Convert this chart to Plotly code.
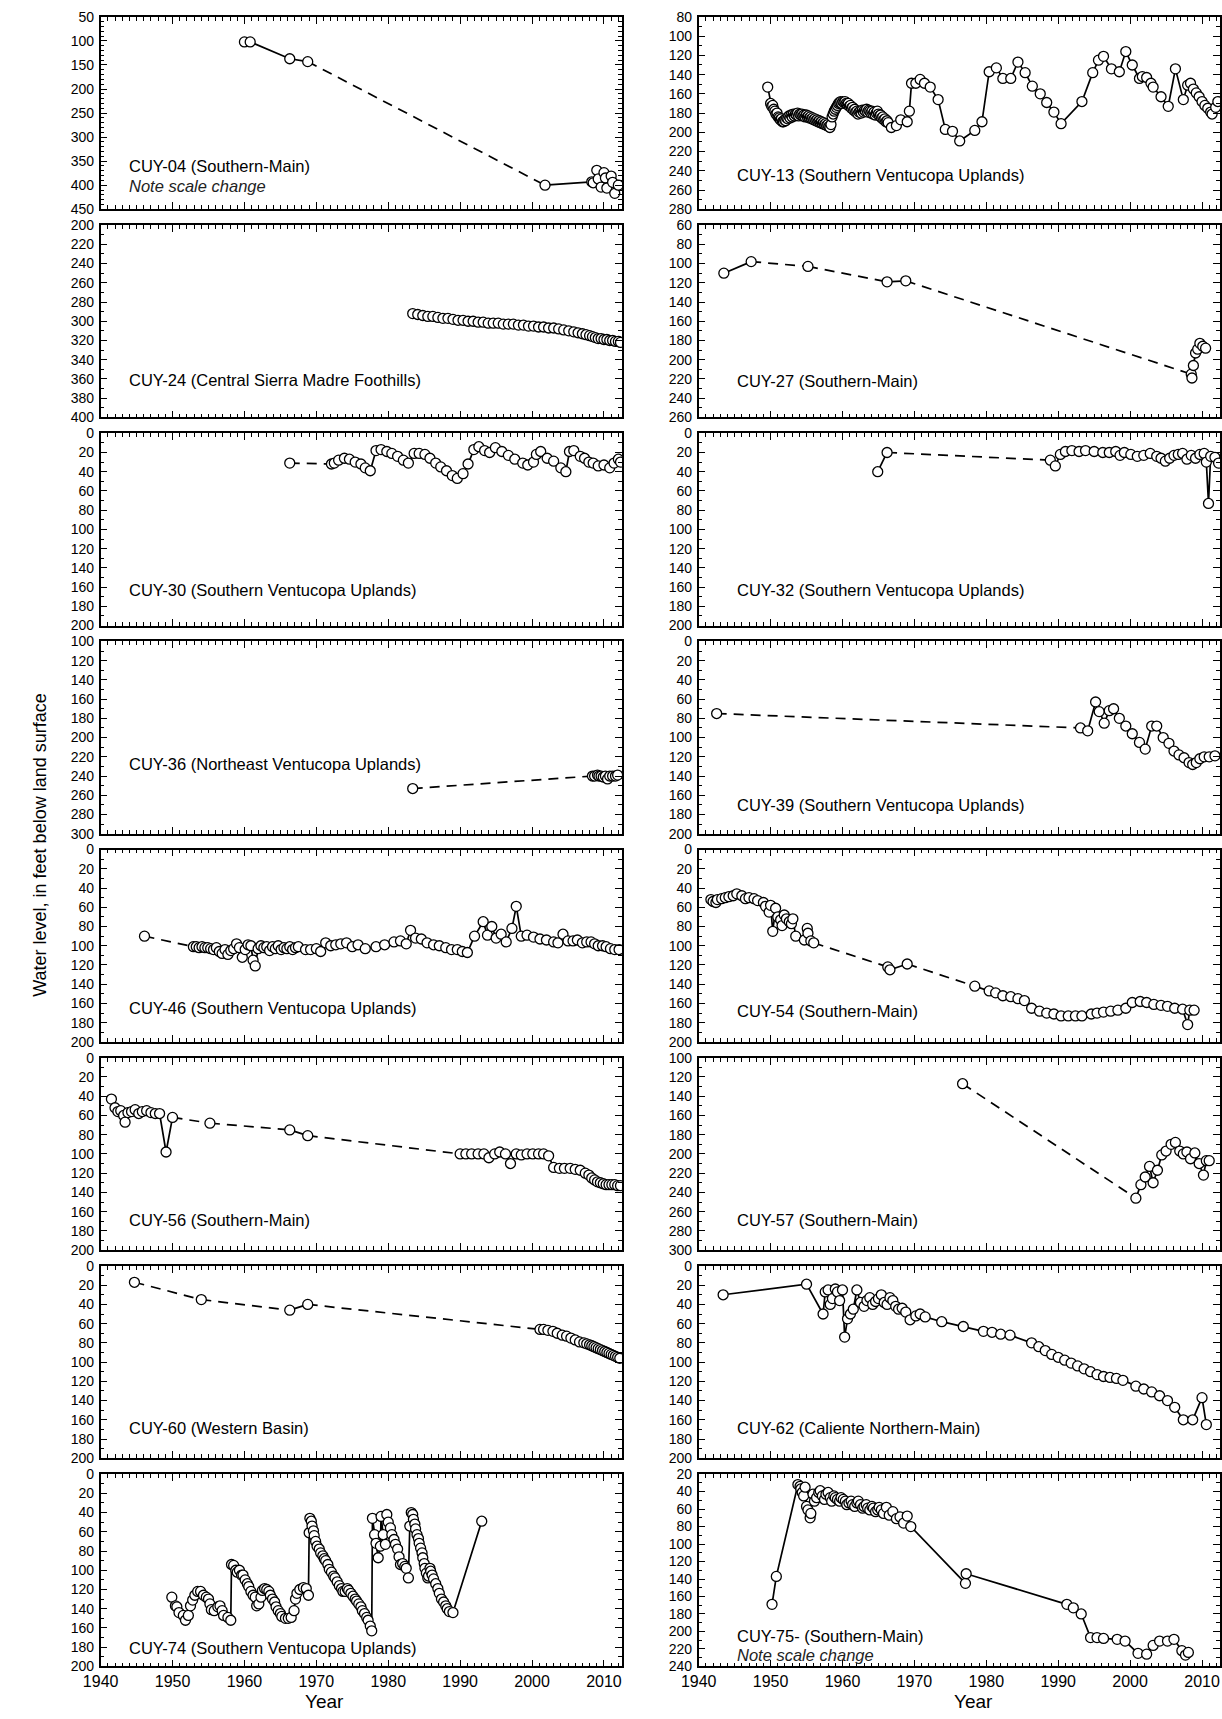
import plotly.graph_objects as go

# ---------------------------------------------------------------------------
# Water-level records for wells in the Cuyama Valley.
# Levels are depth to water in feet below land surface; years are decimal.
# *_dashed_after lists the years after which the record has a long gap
# (drawn as a dashed connector instead of a solid line).
# ---------------------------------------------------------------------------

cuy04_year = [1960.0, 1960.8, 1966.3, 1968.8, 2001.8, 2008.3, 2008.5, 2009.0, 2009.2, 2009.6,
              2010.0, 2010.2, 2010.4, 2011.0, 2011.2, 2011.5, 2012.0]
cuy04_level = [102, 102, 137, 143, 400, 393, 395, 369, 387, 404, 374, 385, 406, 381, 394, 417, 400]
cuy04_dashed_after = [1968.8]

cuy13_year = [1949.6,
              1950.0, 1950.15, 1950.3, 1950.45, 1950.6, 1950.75, 1950.9, 1951.05, 1951.2, 1951.35,
              1951.5, 1951.65, 1951.8, 1951.95, 1952.1, 1952.25, 1952.4, 1952.55, 1952.7, 1952.85,
              1953.0, 1953.15, 1953.3, 1953.45, 1953.6, 1953.75, 1953.9, 1954.05, 1954.2, 1954.35,
              1954.5, 1954.65, 1954.8, 1954.95, 1955.1, 1955.25, 1955.4, 1955.55, 1955.7, 1955.85,
              1956.0, 1956.15, 1956.3, 1956.45, 1956.6, 1956.75, 1956.9, 1957.05, 1957.2, 1957.35,
              1957.5, 1957.65, 1957.8, 1957.95, 1958.1, 1958.25, 1958.4,
              1958.55, 1958.7, 1958.85, 1959.0, 1959.15, 1959.3, 1959.45, 1959.6, 1959.75, 1959.9,
              1960.05, 1960.2, 1960.35, 1960.5, 1960.65, 1960.8, 1960.95, 1961.1, 1961.25, 1961.4,
              1961.55, 1961.7, 1961.85, 1962.0, 1962.15, 1962.3, 1962.45, 1962.6, 1962.75, 1962.9,
              1963.05, 1963.2, 1963.35, 1963.5, 1963.65, 1963.8, 1963.95, 1964.1, 1964.25, 1964.4,
              1964.55, 1964.7, 1964.85, 1965.0, 1965.15, 1965.3, 1965.45, 1965.6, 1965.75, 1965.9,
              1966.05, 1966.2, 1966.35,
              1966.8, 1967.5, 1968.1, 1969.0, 1969.3, 1969.6, 1970.2, 1970.8, 1971.4, 1972.2,
              1973.3, 1974.3, 1975.3, 1976.3, 1978.4, 1979.4, 1980.4, 1981.4, 1982.3, 1983.4,
              1984.4, 1985.4, 1986.4, 1987.5, 1988.4, 1989.4, 1990.4, 1993.3, 1994.8, 1995.6,
              1996.3, 1997.4, 1998.5, 1999.4, 2000.3, 2001.3, 2001.7, 2002.3, 2002.9, 2003.2,
              2004.3, 2005.3, 2006.3, 2007.4, 2008.0, 2008.4, 2008.8, 2009.2, 2009.6, 2010.0,
              2010.4, 2010.8, 2011.2, 2011.4, 2011.9, 2012.2]
cuy13_level = [153,
               170, 173, 172, 176, 178, 181, 180, 184, 185, 187,
               186, 189, 189, 187, 188, 185, 186, 183, 185, 182,
               184, 181, 183, 181, 182, 180, 183, 181, 182, 181,
               183, 182, 184, 182, 184, 183, 185, 184, 186, 185,
               187, 186, 188, 187, 189, 188, 190, 189, 191, 190,
               192, 191, 193, 192, 194, 195, 192,
               184, 181, 178, 176, 174, 172, 170, 169, 168, 170,
               168, 169, 168, 170, 171, 170, 173, 172, 175, 174,
               177, 176, 179, 178, 181, 179, 178, 180, 177, 179,
               177, 178, 176, 179, 177, 178, 180, 178, 181, 179,
               182, 180, 178, 181, 183, 182, 185, 184, 187, 186,
               189, 188, 190,
               195, 193, 187, 189, 178, 149, 149, 145, 149, 153,
               166, 197, 199, 209, 198, 189, 137, 133, 144, 144,
               127, 138, 152, 160, 169, 179, 191, 168, 138, 125,
               121, 134, 137, 116, 130, 144, 142, 143, 149, 153,
               163, 173, 134, 166, 151, 149, 155, 159, 163, 168,
               172, 175, 179, 181, 174, 168]
cuy13_dashed_after = []

cuy24_year = [1983.4, 1984.1, 1984.8, 1985.5, 1986.2, 1986.9, 1987.6, 1988.3, 1989.0, 1989.7,
              1990.4, 1991.1, 1991.8, 1992.5, 1993.2, 1993.9, 1994.6, 1995.3, 1996.0, 1996.7,
              1997.4, 1998.1, 1998.8, 1999.5, 2000.2, 2000.9, 2001.6, 2002.3, 2003.0, 2003.7,
              2004.4, 2005.1, 2005.8, 2006.4, 2007.0, 2007.5, 2008.0, 2008.4, 2008.8, 2009.2,
              2009.6, 2010.0, 2010.4, 2010.8, 2011.2, 2011.6, 2012.0, 2012.3]
cuy24_level = [292, 293, 294, 295, 295, 296, 297, 297, 298, 299,
               299, 300, 300, 301, 301, 302, 302, 302, 303, 303,
               303, 304, 304, 305, 305, 306, 306, 307, 307, 308,
               309, 310, 311, 312, 313, 314, 315, 316, 317, 318,
               318, 319, 319, 320, 320, 321, 321, 322]
cuy24_dashed_after = []

cuy27_year = [1943.5, 1947.3, 1955.2, 1966.2, 1968.8, 2008.5, 2008.6, 2008.8, 2009.1, 2009.4,
              2009.7, 2010.1, 2010.5]
cuy27_level = [110, 98, 103, 119, 118, 215, 219, 206, 193, 189, 183, 186, 188]
cuy27_dashed_after = [1947.3, 1955.2, 1968.8]

cuy30_year = [1966.3, 1972.1, 1972.5, 1973.1, 1973.9, 1974.6, 1975.4, 1976.2, 1976.8, 1977.5,
              1978.3, 1979.0, 1979.8, 1980.5, 1981.3, 1982.1, 1982.8, 1983.6, 1984.3, 1985.1,
              1985.8, 1986.6, 1987.3, 1988.1, 1988.9, 1989.6, 1990.4, 1991.1, 1991.9, 1992.6,
              1993.4, 1994.1, 1994.9, 1995.8, 1996.7, 1997.6, 1998.7, 1999.4, 2000.2, 2000.6,
              2001.2, 2002.1, 2003.0, 2004.0, 2004.7, 2005.2, 2005.8, 2006.7, 2007.3, 2007.9,
              2008.5, 2009.2, 2010.0, 2010.8, 2011.4, 2012.0, 2012.3]
cuy30_level = [31, 32, 31, 28, 26, 27, 30, 32, 36, 39,
               18, 17, 19, 21, 24, 28, 31, 21, 21, 22,
               26, 31, 35, 39, 44, 47, 42, 32, 17, 14,
               18, 20, 15, 19, 23, 27, 31, 33, 30, 22,
               19, 26, 29, 36, 40, 19, 18, 24, 26, 30,
               31, 34, 33, 36, 31, 27, 30]
cuy30_dashed_after = [1966.3]

cuy32_year = [1964.9, 1966.2, 1988.9, 1989.6, 1990.3, 1991.0, 1991.9, 1992.9, 1993.8, 1995.0,
              1996.2, 1997.1, 1998.0, 1998.6, 1999.2, 2000.1, 2001.0, 2001.9, 2002.8, 2003.7,
              2004.3, 2004.9, 2005.5, 2006.1, 2006.7, 2007.3, 2007.9, 2008.5, 2009.1, 2009.7,
              2010.3, 2010.6, 2010.9, 2011.2, 2011.8, 2012.3]
cuy32_level = [40, 20, 28, 34, 22, 19, 18, 19, 18, 19,
               20, 20, 19, 23, 20, 22, 24, 23, 21, 24,
               26, 29, 26, 23, 22, 21, 27, 23, 26, 22,
               21, 30, 73, 24, 25, 31]
cuy32_dashed_after = [1966.2]

cuy36_year = [1983.4, 2008.4, 2008.7, 2009.1, 2009.3, 2009.6, 2009.9, 2010.2, 2010.5, 2010.8,
              2011.2, 2011.6, 2011.9]
cuy36_level = [253, 240, 240, 239, 240, 240, 241, 240, 243, 240, 240, 240, 239]
cuy36_dashed_after = [1983.4]

cuy39_year = [1942.5, 1993.1, 1994.1, 1995.2, 1995.7, 1996.4, 1997.1, 1997.7, 1998.5, 1999.4,
              2000.3, 2001.3, 2002.1, 2003.0, 2003.7, 2004.6, 2005.4, 2006.1, 2006.8, 2007.5,
              2008.2, 2008.7, 2009.2, 2009.7, 2010.3, 2011.0, 2011.8]
cuy39_level = [75, 90, 93, 63, 73, 85, 72, 70, 80, 88,
               96, 105, 112, 88, 88, 100, 106, 114, 118, 121,
               126, 128, 126, 122, 120, 120, 119]
cuy39_dashed_after = [1942.5]

cuy46_year = [1946.1, 1952.9, 1953.3, 1953.7, 1954.1, 1954.5, 1954.9, 1955.3, 1955.7, 1956.1,
              1956.5, 1956.9, 1957.3, 1957.7, 1958.1, 1958.5, 1958.9, 1959.3, 1959.7, 1960.1,
              1960.5, 1960.9, 1961.2, 1961.5, 1961.9, 1962.3, 1962.7, 1963.1, 1963.5, 1963.9,
              1964.3, 1964.7, 1965.1, 1965.5, 1965.9, 1966.3, 1966.7, 1967.1, 1967.5, 1968.5,
              1969.2, 1970.0, 1970.6, 1971.3, 1972.0, 1972.7, 1973.4, 1974.2, 1975.0, 1975.8,
              1976.8, 1978.3, 1979.5, 1980.8, 1981.7, 1982.5, 1983.1, 1983.8, 1984.6, 1985.4,
              1986.3, 1987.1, 1988.0, 1988.8, 1989.6, 1990.3, 1991.0, 1992.0, 1993.2, 1993.8,
              1994.4, 1995.0, 1995.7, 1996.4, 1997.2, 1997.8, 1998.5, 1999.3, 2000.2, 2001.1,
              2002.0, 2003.0, 2003.6, 2004.3, 2005.0, 2005.7, 2006.3, 2007.0, 2007.6, 2008.2,
              2008.7, 2009.2, 2009.8, 2010.3, 2010.9, 2011.5, 2012.1]
cuy46_level = [90, 101, 101, 102, 101, 102, 102, 103, 104, 102,
               106, 108, 104, 109, 105, 103, 98, 102, 112, 104,
               99, 100, 115, 121, 103, 100, 102, 101, 105, 101,
               103, 100, 104, 102, 103, 101, 104, 102, 101, 104,
               104, 103, 106, 97, 100, 99, 98, 97, 101, 99,
               103, 101, 99, 96, 95, 98, 84, 92, 93, 97,
               99, 100, 102, 104, 104, 106, 107, 90, 75, 89,
               80, 92, 88, 96, 82, 59, 90, 89, 91, 93,
               94, 96, 97, 88, 95, 95, 94, 97, 96, 96,
               98, 100, 100, 101, 103, 104, 104]
cuy46_dashed_after = [1946.1]

cuy54_year = [1941.7, 1942.0, 1942.4, 1942.6, 1943.2, 1943.7, 1944.2, 1944.8, 1945.3, 1946.0,
              1946.5, 1947.0, 1947.7, 1948.2, 1949.0, 1949.3, 1949.8, 1950.0, 1950.3, 1950.7,
              1951.0, 1951.4, 1951.6, 1951.9, 1952.2, 1952.6, 1952.9, 1953.1, 1953.5, 1954.7,
              1955.1, 1955.2, 1955.6, 1956.0, 1966.3, 1966.6, 1969.0, 1978.4, 1980.4, 1981.3,
              1982.3, 1983.4, 1984.4, 1985.3, 1986.3, 1987.4, 1988.4, 1989.4, 1990.4, 1991.4,
              1992.4, 1993.3, 1994.6, 1995.4, 1996.3, 1997.3, 1998.3, 1999.4, 2000.3, 2001.4,
              2002.3, 2003.3, 2004.3, 2005.2, 2006.2, 2007.3, 2008.0, 2008.3, 2008.9]
cuy54_level = [52, 54, 55, 52, 51, 50, 49, 48, 46, 48,
               51, 50, 51, 53, 55, 59, 65, 58, 85, 61,
               70, 73, 79, 68, 72, 75, 77, 72, 90, 94,
               82, 87, 95, 97, 122, 125, 119, 142, 147, 149,
               152, 153, 155, 157, 165, 168, 170, 171, 173, 173,
               173, 173, 171, 170, 169, 168, 167, 165, 159, 158,
               159, 161, 162, 163, 165, 166, 182, 167, 167]
cuy54_dashed_after = [1956.0, 1969.0]

cuy56_year = [1941.5, 1942.0, 1942.4, 1942.8, 1943.2, 1943.4, 1943.8, 1944.3, 1944.8, 1945.3,
              1945.8, 1946.4, 1947.0, 1947.6, 1948.2, 1949.1, 1950.0, 1955.2, 1966.3, 1968.8,
              1990.0, 1990.8, 1991.6, 1992.5, 1993.3, 1994.0, 1994.8, 1995.5, 1996.3, 1997.0,
              1997.8, 1998.5, 1999.3, 2000.1, 2000.9, 2001.6, 2002.3, 2003.0, 2003.8, 2004.5,
              2005.3, 2006.0, 2006.7, 2007.4, 2007.9, 2008.3, 2008.7, 2009.1, 2009.5, 2009.9,
              2010.3, 2010.7, 2011.1, 2011.5, 2011.9, 2012.3]
cuy56_level = [43, 52, 56, 55, 60, 67, 57, 56, 54, 58,
               56, 55, 57, 58, 58, 98, 62, 68, 75, 81,
               100, 100, 100, 100, 100, 104, 100, 98, 100, 110,
               100, 101, 100, 100, 100, 100, 102, 114, 115, 115,
               115, 116, 117, 120, 122, 125, 127, 129, 130, 131,
               132, 132, 132, 132, 133, 133]
cuy56_dashed_after = [1950.0, 1955.2, 1968.8]

cuy57_year = [1976.7, 2000.8, 2001.5, 2002.1, 2002.7, 2003.2, 2003.8, 2004.4, 2005.0, 2005.7,
              2006.3, 2006.9, 2007.4, 2007.9, 2008.4, 2009.0, 2009.6, 2010.2, 2010.6, 2011.0]
cuy57_level = [127, 246, 232, 224, 213, 230, 217, 201, 197, 190,
               188, 197, 200, 198, 205, 199, 210, 222, 207, 207]
cuy57_dashed_after = [1976.7]

cuy60_year = [1944.7, 1954.0, 1966.3, 1968.8, 2001.1, 2001.6, 2002.2, 2002.9, 2003.5, 2004.2,
              2004.8, 2005.4, 2006.0, 2006.6, 2007.2, 2007.6, 2008.0, 2008.3, 2008.6, 2008.9,
              2009.2, 2009.5, 2009.8, 2010.1, 2010.4, 2010.7, 2011.0, 2011.3, 2011.6, 2011.9,
              2012.2]
cuy60_level = [17, 35, 46, 40, 66, 66, 67, 68, 70, 72,
               73, 75, 77, 79, 80, 81, 82, 83, 84, 85,
               86, 87, 88, 89, 90, 91, 92, 93, 94, 95,
               96]
cuy60_dashed_after = [1944.7, 1954.0, 1968.8]

cuy62_year = [1943.4, 1955.0, 1957.3, 1957.6, 1958.0, 1958.3, 1958.6, 1959.0, 1959.3, 1959.6,
              1960.0, 1960.3, 1960.7, 1961.1, 1961.5, 1962.0, 1962.5, 1963.0, 1963.4, 1963.8,
              1964.2, 1964.6, 1965.0, 1965.4, 1965.8, 1966.2, 1966.6, 1967.0, 1967.4, 1967.8,
              1968.3, 1968.8, 1969.4, 1970.2, 1970.8, 1971.5, 1973.8, 1976.8, 1979.6, 1980.8,
              1982.0, 1983.3, 1986.3, 1987.3, 1988.2, 1989.1, 1990.0, 1990.9, 1991.8, 1992.7,
              1993.6, 1994.5, 1995.4, 1996.3, 1997.2, 1998.1, 1999.0, 2000.8, 2001.9, 2003.0,
              2004.1, 2005.2, 2006.2, 2007.4, 2008.7, 2010.0, 2010.6]
cuy62_level = [30, 19, 50, 27, 25, 40, 34, 24, 27, 36,
               25, 74, 55, 50, 45, 25, 38, 42, 36, 33,
               40, 37, 34, 30, 38, 40, 33, 36, 42, 45,
               44, 48, 56, 52, 50, 53, 58, 63, 68, 69,
               71, 72, 80, 84, 88, 92, 95, 98, 101, 104,
               107, 110, 113, 115, 116, 117, 119, 125, 128, 131,
               135, 140, 147, 160, 160, 137, 165]
cuy62_dashed_after = []

cuy74_year = [1949.9, 1950.4, 1950.6, 1950.9, 1951.5, 1951.8, 1952.2, 1952.5, 1952.8, 1953.1,
              1953.5, 1953.9, 1954.3, 1954.7, 1955.0, 1955.2, 1955.4, 1955.8, 1956.3, 1956.6,
              1956.9, 1957.1, 1957.7, 1958.1, 1958.2, 1958.5, 1958.8, 1959.0, 1959.3, 1959.6,
              1959.8, 1960.1, 1960.4, 1960.6, 1960.9, 1961.2, 1961.5, 1961.7, 1962.0, 1962.3,
              1962.5, 1962.8, 1963.1, 1963.4, 1963.6, 1963.9, 1964.2, 1964.4, 1964.7, 1965.0,
              1965.2, 1965.7, 1966.1, 1966.5, 1966.9, 1967.1, 1967.3, 1967.7, 1968.2, 1968.6,
              1968.9, 1969.0, 1969.1, 1969.3, 1969.4, 1969.6, 1969.7, 1969.9, 1970.1, 1970.4,
              1970.6, 1970.9, 1971.1, 1971.3, 1971.6, 1971.8, 1972.1, 1972.4, 1972.6, 1972.9,
              1973.2, 1973.5, 1973.7, 1974.0, 1974.3, 1974.5, 1974.8, 1975.1, 1975.4, 1975.6,
              1975.9, 1976.2, 1976.4, 1976.7, 1977.0, 1977.2, 1977.5, 1977.7, 1977.8, 1978.1,
              1978.3, 1978.6, 1978.9, 1979.0, 1979.3, 1979.6, 1979.8, 1980.0, 1980.3, 1980.5,
              1980.8, 1981.0, 1981.3, 1981.5, 1981.7, 1982.0, 1982.3, 1982.5, 1982.8, 1983.0,
              1983.2, 1983.4, 1983.5, 1983.7, 1983.8, 1984.0, 1984.2, 1984.3, 1984.5, 1984.7,
              1984.8, 1985.0, 1985.1, 1985.3, 1985.5, 1985.6, 1985.8, 1985.9, 1986.1, 1986.3,
              1986.6, 1986.9, 1987.1, 1987.4, 1987.7, 1988.0, 1988.2, 1988.5, 1989.0, 1993.0]
cuy74_level = [128, 137, 138, 144, 147, 152, 147, 137, 131, 126,
               122, 122, 126, 128, 130, 135, 141, 142, 138, 137,
               142, 147, 149, 152, 94, 95, 100, 102, 100, 105,
               105, 110, 114, 117, 122, 126, 128, 137, 135, 128,
               121, 119, 120, 122, 126, 130, 133, 138, 142, 145,
               148, 150, 150, 149, 142, 130, 124, 120, 118, 119,
               126, 61, 46, 49, 54, 59, 64, 70, 75, 78,
               82, 85, 88, 90, 94, 99, 102, 106, 108, 112,
               116, 119, 122, 122, 119, 121, 124, 127, 130, 132,
               135, 138, 142, 145, 149, 152, 158, 163, 46, 63,
               72, 87, 75, 44, 63, 73, 42, 50, 56, 63,
               68, 73, 78, 86, 94, 93, 96, 98, 108, 54,
               40, 42, 47, 52, 57, 63, 67, 72, 77, 82,
               87, 93, 98, 103, 108, 106, 98, 101, 105, 109,
               114, 119, 124, 130, 133, 137, 140, 143, 144, 49]
cuy74_dashed_after = []

cuy75_year = [1950.2, 1950.8, 1953.8, 1954.1, 1954.2, 1954.4, 1954.6, 1954.8, 1955.0, 1955.2,
              1955.5, 1955.6, 1955.9, 1956.1, 1956.4, 1956.7, 1956.9, 1957.2, 1957.5, 1957.7,
              1958.0, 1958.3, 1958.5, 1958.8, 1959.0, 1959.3, 1959.6, 1959.8, 1960.1, 1960.4,
              1960.6, 1960.9, 1961.2, 1961.4, 1961.7, 1962.0, 1962.2, 1962.5, 1962.8, 1963.0,
              1963.3, 1963.5, 1963.8, 1964.1, 1964.3, 1964.6, 1964.9, 1965.1, 1965.4, 1965.7,
              1966.1, 1966.5, 1967.0, 1967.5, 1968.0, 1968.5, 1969.0, 1969.5, 1977.1, 1977.2,
              1991.2, 1992.1, 1993.2, 1994.5, 1995.4, 1996.3, 1998.2, 1999.3, 2001.1, 2002.3,
              2003.2, 2004.1, 2005.2, 2006.1, 2007.2, 2007.7, 2008.1]
cuy75_level = [169, 137, 32, 34, 37, 41, 45, 35, 57, 61,
               70, 65, 43, 51, 47, 41, 39, 45, 49, 43,
               41, 47, 51, 45, 47, 49, 51, 47, 49, 51,
               55, 53, 51, 55, 57, 53, 51, 55, 59, 57,
               55, 59, 61, 57, 59, 63, 61, 58, 61, 65,
               58, 67, 63, 71, 69, 76, 68, 80, 145, 134,
               169, 173, 180, 207, 207, 208, 209, 211, 225, 226,
               216, 211, 211, 209, 222, 227, 224]
cuy75_dashed_after = []

# ---------------------------------------------------------------------------
# Panel definitions: (column, row) grid position, depth range and captions
# ---------------------------------------------------------------------------
panels = [
    dict(col=0, row=0, x=cuy04_year, y=cuy04_level, dashed=cuy04_dashed_after,
         yrange=(50, 450), dtick=50, label="CUY-04 (Southern-Main)", label_y=360,
         note="Note scale change", note_y=402),
    dict(col=1, row=0, x=cuy13_year, y=cuy13_level, dashed=cuy13_dashed_after,
         yrange=(80, 280), dtick=20, label="CUY-13 (Southern Ventucopa Uplands)", label_y=244),
    dict(col=0, row=1, x=cuy24_year, y=cuy24_level, dashed=cuy24_dashed_after,
         yrange=(200, 400), dtick=20, label="CUY-24 (Central Sierra Madre Foothills)", label_y=361),
    dict(col=1, row=1, x=cuy27_year, y=cuy27_level, dashed=cuy27_dashed_after,
         yrange=(60, 260), dtick=20, label="CUY-27 (Southern-Main)", label_y=222),
    dict(col=0, row=2, x=cuy30_year, y=cuy30_level, dashed=cuy30_dashed_after,
         yrange=(0, 200), dtick=20, label="CUY-30 (Southern Ventucopa Uplands)", label_y=163),
    dict(col=1, row=2, x=cuy32_year, y=cuy32_level, dashed=cuy32_dashed_after,
         yrange=(0, 200), dtick=20, label="CUY-32 (Southern Ventucopa Uplands)", label_y=163),
    dict(col=0, row=3, x=cuy36_year, y=cuy36_level, dashed=cuy36_dashed_after,
         yrange=(100, 300), dtick=20, label="CUY-36 (Northeast Ventucopa Uplands)", label_y=227),
    dict(col=1, row=3, x=cuy39_year, y=cuy39_level, dashed=cuy39_dashed_after,
         yrange=(0, 200), dtick=20, label="CUY-39 (Southern Ventucopa Uplands)", label_y=170),
    dict(col=0, row=4, x=cuy46_year, y=cuy46_level, dashed=cuy46_dashed_after,
         yrange=(0, 200), dtick=20, label="CUY-46 (Southern Ventucopa Uplands)", label_y=165),
    dict(col=1, row=4, x=cuy54_year, y=cuy54_level, dashed=cuy54_dashed_after,
         yrange=(0, 200), dtick=20, label="CUY-54 (Southern-Main)", label_y=168),
    dict(col=0, row=5, x=cuy56_year, y=cuy56_level, dashed=cuy56_dashed_after,
         yrange=(0, 200), dtick=20, label="CUY-56 (Southern-Main)", label_y=169),
    dict(col=1, row=5, x=cuy57_year, y=cuy57_level, dashed=cuy57_dashed_after,
         yrange=(100, 300), dtick=20, label="CUY-57 (Southern-Main)", label_y=269),
    dict(col=0, row=6, x=cuy60_year, y=cuy60_level, dashed=cuy60_dashed_after,
         yrange=(0, 200), dtick=20, label="CUY-60 (Western Basin)", label_y=169),
    dict(col=1, row=6, x=cuy62_year, y=cuy62_level, dashed=cuy62_dashed_after,
         yrange=(0, 200), dtick=20, label="CUY-62 (Caliente Northern-Main)", label_y=169),
    dict(col=0, row=7, x=cuy74_year, y=cuy74_level, dashed=cuy74_dashed_after,
         yrange=(0, 200), dtick=20, label="CUY-74 (Southern Ventucopa Uplands)", label_y=181),
    dict(col=1, row=7, x=cuy75_year, y=cuy75_level, dashed=cuy75_dashed_after,
         yrange=(20, 240), dtick=20, label="CUY-75- (Southern-Main)", label_y=205,
         note="Note scale change", note_y=227),
]

# ---------------------------------------------------------------------------
# Page geometry (pixels)
# ---------------------------------------------------------------------------
W, H = 1222, 1719
COL_X = [(84, 614), (692, 1222)]
TOP, BOTTOM, GAP, NROWS = 9, 1674, 16, 8
PANEL_H = (BOTTOM - TOP - GAP * (NROWS - 1)) / NROWS
YEAR_MIN, YEAR_MAX = 1940, 2012.5
LABEL_X = [1943.6, 1945.0]

SANS = "Liberation Sans, Arial, Helvetica, sans-serif"
BLACK = "#000000"

fig = go.Figure()
layout = dict(
    width=W, height=H, margin=dict(l=0, r=0, t=0, b=0),
    paper_bgcolor="white", plot_bgcolor="white", showlegend=False,
)
annotations = []


def links(xs, ys, dashed_after):
    """Split a record into solid polylines and dashed gap connectors."""
    gap_idx = {xs.index(v) for v in dashed_after}
    sx, sy, dx, dy = [], [], [], []
    run_x, run_y = [xs[0]], [ys[0]]
    for i in range(len(xs) - 1):
        if i in gap_idx:
            dx += [xs[i], xs[i + 1], None]
            dy += [ys[i], ys[i + 1], None]
            sx += run_x + [None]
            sy += run_y + [None]
            run_x, run_y = [xs[i + 1]], [ys[i + 1]]
        else:
            run_x.append(xs[i + 1])
            run_y.append(ys[i + 1])
    sx += run_x
    sy += run_y
    return sx, sy, dx, dy


for k, p in enumerate(panels, start=1):
    xa, ya = f"x{k}", f"y{k}"
    x0, x1 = COL_X[p["col"]]
    top = TOP + p["row"] * (PANEL_H + GAP)
    bot = top + PANEL_H
    bottom_row = p["row"] == NROWS - 1

    sx, sy, dx, dy = links(p["x"], p["y"], p["dashed"])
    fig.add_trace(go.Scatter(x=sx, y=sy, xaxis=xa, yaxis=ya, mode="lines",
                             line=dict(color=BLACK, width=1.7), hoverinfo="skip"))
    if dx:
        fig.add_trace(go.Scatter(x=dx, y=dy, xaxis=xa, yaxis=ya, mode="lines",
                                 line=dict(color=BLACK, width=1.7, dash="10px,7px"),
                                 hoverinfo="skip"))
    fig.add_trace(go.Scatter(x=p["x"], y=p["y"], xaxis=xa, yaxis=ya, mode="markers",
                             marker=dict(symbol="circle", size=10, color="white",
                                         line=dict(color=BLACK, width=1.3))))

    key = "" if k == 1 else str(k)
    layout["xaxis" + key] = dict(
        domain=[x0 / W, x1 / W], anchor=ya, range=[YEAR_MIN, YEAR_MAX],
        tick0=1940, dtick=10, ticks="inside", ticklen=7, tickwidth=1.2, tickcolor=BLACK,
        minor=dict(ticks="inside", dtick=1, ticklen=4, tickwidth=1, tickcolor=BLACK,
                   showgrid=False),
        showline=True, linecolor=BLACK, linewidth=1.6, mirror="ticks",
        showgrid=False, zeroline=False, showticklabels=bottom_row,
        tickfont=dict(family=SANS, size=16, color=BLACK), ticklabelstandoff=0,
    )
    ylo, yhi = p["yrange"]
    layout["yaxis" + key] = dict(
        domain=[1 - bot / H, 1 - top / H], anchor=xa, range=[yhi, ylo],
        tick0=ylo, dtick=p["dtick"], ticks="inside", ticklen=7, tickwidth=1.2,
        tickcolor=BLACK,
        minor=dict(ticks="inside", dtick=10, ticklen=4, tickwidth=1, tickcolor=BLACK,
                   showgrid=False),
        showline=True, linecolor=BLACK, linewidth=1.6, mirror="ticks",
        showgrid=False, zeroline=False,
        tickfont=dict(family=SANS, size=14, color=BLACK), ticklabelstandoff=2,
    )

    annotations.append(dict(
        xref=xa, yref=ya, x=LABEL_X[p["col"]], y=p["label_y"], text=p["label"],
        showarrow=False, xanchor="left", yanchor="middle",
        font=dict(family=SANS, size=16.5, color=BLACK)))
    if p.get("note"):
        annotations.append(dict(
            xref=xa, yref=ya, x=LABEL_X[p["col"]], y=p["note_y"],
            text="<i>" + p["note"] + "</i>", showarrow=False,
            xanchor="left", yanchor="middle",
            font=dict(family=SANS, size=16.5, color="#222222")))

# Shared axis titles
annotations.append(dict(
    xref="paper", yref="paper", x=22 / W, y=1 - 845 / H,
    text="Water level, in feet below land surface", textangle=-90,
    showarrow=False, xanchor="center", yanchor="middle",
    font=dict(family=SANS, size=18, color=BLACK)))
for cx in (312, 971):
    annotations.append(dict(
        xref="paper", yref="paper", x=cx / W, y=1 - 1709 / H, text="Year",
        showarrow=False, xanchor="center", yanchor="middle",
        font=dict(family=SANS, size=19, color=BLACK)))

layout["annotations"] = annotations
fig.update_layout(**layout)
fig.write_html("out.html")
